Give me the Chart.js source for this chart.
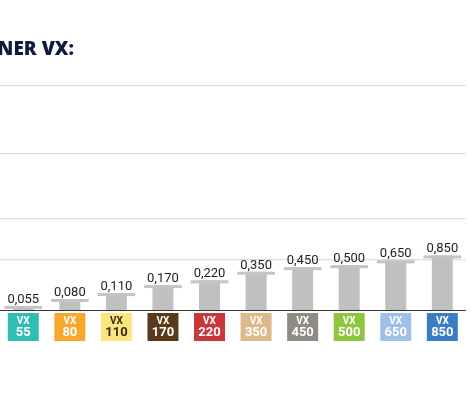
<!DOCTYPE html>
<html>
<head>
<meta charset="utf-8">
<script src="https://cdn.jsdelivr.net/npm/chart.js@4"></script>
<style>
  html, body { margin: 0; padding: 0; background: #ffffff; }
  #wrap { width: 470px; height: 400px; }
</style>
</head>
<body>
<div id="wrap"><canvas id="c" width="470" height="400"></canvas></div>
<script>
// ---- data ----
const categories = ["VX 55", "VX 80", "VX 110", "VX 170", "VX 220", "VX 350", "VX 450", "VX 500", "VX 650", "VX 850"];
const sizeLabels = ["55", "80", "110", "170", "220", "350", "450", "500", "650", "850"];
const boxPrefix = "VX";
const values = [0.055, 0.080, 0.110, 0.170, 0.220, 0.350, 0.450, 0.500, 0.650, 0.850];
const boxColors = ["#2fbdb6", "#f6a82c", "#fbe57e", "#5b3a1c", "#c7373b", "#dcba8c", "#8e8a84", "#8ec63f", "#9fc0e8", "#3a7dc5"];
const boxTextColors = ["#ffffff", "#ffffff", "#3b2a12", "#ffffff", "#ffffff", "#ffffff", "#ffffff", "#ffffff", "#ffffff", "#ffffff"];
const gridValues = [0.69, 6.3, 211, 8300];
const titleText = "NER VX:";
const yMin = 0.044, yMax = 8300;

const fmt = v => v.toFixed(3).replace('.', ',');

const boxPlugin = {
  id: 'boxes',
  beforeDraw(chart) {
    const ctx = chart.ctx;
    const xs = chart.scales.x;
    const top = chart.chartArea.bottom + 3;
    ctx.save();
    sizeLabels.forEach((s, i) => {
      const x = xs.getPixelForValue(i);
      ctx.fillStyle = boxColors[i];
      ctx.fillRect(x - 15.5, top, 31, 28);
      ctx.fillStyle = boxTextColors[i];
      ctx.font = 'bold 10px Roboto';
      ctx.textAlign = 'center';
      ctx.textBaseline = 'middle';
      ctx.fillText(boxPrefix, x, top + 8);
    });
    ctx.restore();
  }
};

const capPlugin = {
  id: 'caps',
  afterDatasetsDraw(chart) {
    const ctx = chart.ctx;
    const meta = chart.getDatasetMeta(0);
    ctx.save();
    meta.data.forEach((bar, i) => {
      const w = bar.width * 1.8;
      ctx.fillStyle = '#c4c4c4';
      ctx.fillRect(bar.x - w / 2, bar.y, w, 3);
      ctx.fillStyle = '#1e1e1e';
      ctx.font = '13px Roboto';
      ctx.textAlign = 'center';
      ctx.textBaseline = 'alphabetic';
      ctx.fillText(fmt(values[i]), bar.x, bar.y - 3);
    });
    ctx.restore();
  }
};

new Chart(document.getElementById('c'), {
  type: 'bar',
  data: {
    labels: categories,
    datasets: [{
      data: values,
      backgroundColor: '#c0c0c0',
      borderWidth: 0,
      barPercentage: 0.45,
      categoryPercentage: 1.0
    }]
  },
  plugins: [boxPlugin, capPlugin],
  options: {
    responsive: false,
    animation: false,
    devicePixelRatio: 1,
    layout: { padding: { left: -2.4, right: 4.4, top: 0, bottom: 44.4 } },
    plugins: {
      legend: { display: false },
      tooltip: { enabled: false },
      title: {
        display: true,
        text: titleText,
        align: 'start',
        color: '#101b3d',
        font: { family: 'Open Sans', size: 19, weight: '800', lineHeight: 1.2 },
        padding: { top: 38, bottom: 25.2 }
      }
    },
    scales: {
      x: {
        grid: { display: false, drawTicks: false },
        border: { display: true, color: '#333333', width: 1 },
        ticks: {
          padding: 15,
          font: { family: 'Roboto', size: 13, weight: 'bold' },
          color: ctx => boxTextColors[ctx.index],
          callback: (val, i) => sizeLabels[i],
          maxRotation: 0,
          autoSkip: false
        }
      },
      y: {
        type: 'logarithmic',
        min: yMin,
        max: yMax,
        bounds: 'data',
        afterBuildTicks: scale => { scale.ticks = gridValues.map(v => ({ value: v })); },
        grid: { color: '#dedede', lineWidth: 1.2, drawTicks: false },
        border: { display: false },
        ticks: { display: false }
      }
    }
  }
});
</script>
</body>
</html>
